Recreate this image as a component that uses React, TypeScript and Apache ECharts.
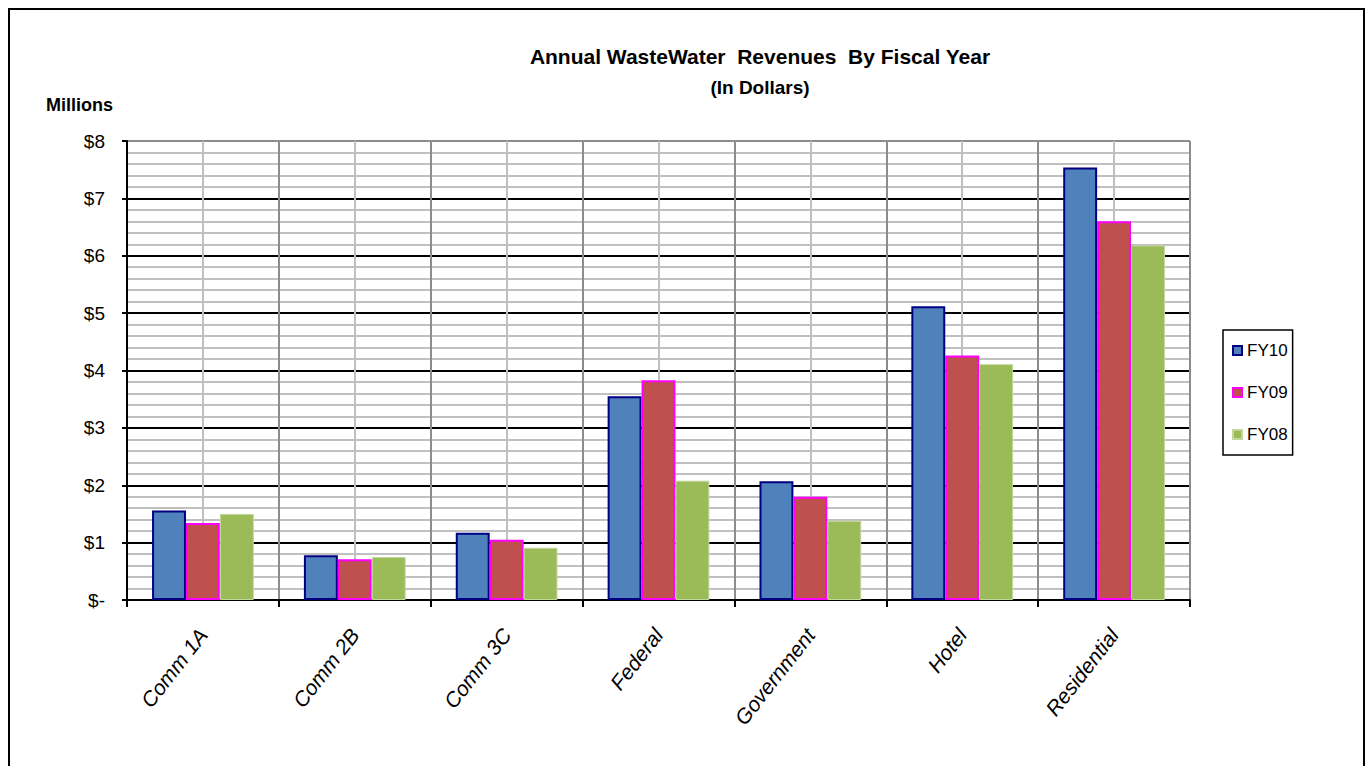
import React, { useEffect, useRef } from "react";
import * as echarts from "echarts";

const categories = ["Comm 1A", "Comm 2B", "Comm 3C", "Federal", "Government", "Hotel", "Residential"];
const fy10 = [1.56, 0.78, 1.17, 3.55, 2.07, 5.12, 7.54];
const fy09 = [1.34, 0.71, 1.05, 3.83, 1.8, 4.26, 6.6];
const fy08 = [1.5, 0.75, 0.91, 2.08, 1.38, 4.11, 6.18];
const seriesNames = ["FY10", "FY09", "FY08"];
const yTicks = [0, 1, 2, 3, 4, 5, 6, 7, 8];

const FONT = "'Liberation Sans Narrow', 'Arial Narrow', 'Liberation Sans', Arial, sans-serif";

export default function App() {
  const ref = useRef<HTMLDivElement>(null);
  useEffect(() => {
    document.body.style.margin = "0";
    const chart = echarts.init(ref.current!, null, { renderer: "svg" });
    const splitColors = yTicks.map((t) => (t === 8 ? "#8c8c8c" : "#000000"));
    const vColors: string[] = [];
    for (let i = 0; i <= categories.length * 2; i++) vColors.push(i % 2 === 0 ? "#8c8c8c" : "#c0c0c0");
    chart.setOption({
      animation: false,
      backgroundColor: "#ffffff",
      textStyle: { fontFamily: FONT, color: "#000" },
      title: [
        {
          text: "Annual WasteWater  Revenues  By Fiscal Year",
          left: 755,
          top: 41,
          textAlign: "center",
          textStyle: { fontFamily: FONT, fontWeight: "bold", fontSize: 21, color: "#000" },
        },
        {
          text: "(In Dollars)",
          left: 755,
          top: 73,
          textAlign: "center",
          textStyle: { fontFamily: FONT, fontWeight: "bold", fontSize: 19, color: "#000" },
        },
      ],
      graphic: [
        {
          type: "rect",
          shape: { x: 9, y: 9, width: 1355, height: 770 },
          style: { fill: "none", stroke: "#000", lineWidth: 2 },
          silent: true,
        },
        {
          type: "text",
          x: 46,
          y: 105,
          style: {
            text: "Millions",
            font: `bold 18px ${FONT}`,
            fill: "#000",
            textVerticalAlign: "middle",
          },
        },
      ],
      legend: {
        orient: "vertical",
        left: 1223,
        top: 330,
        data: seriesNames,
        backgroundColor: "#fff",
        borderColor: "#000",
        borderWidth: 1.5,
        borderRadius: 0,
        padding: [12, 5, 12, 9],
        itemGap: 25,
        itemWidth: 9,
        itemHeight: 9,
        icon: "rect",
        textStyle: { fontFamily: FONT, fontSize: 17, color: "#000" },
      },
      grid: { left: 127, right: 182, top: 141, bottom: 166, containLabel: false },
      xAxis: [
        {
          type: "category",
          data: categories,
          boundaryGap: true,
          axisLine: { show: true, lineStyle: { color: "#000", width: 2 } },
          axisTick: { show: true, length: 7, lineStyle: { color: "#000", width: 2 } },
          splitLine: { show: false },
          axisLabel: {
            rotate: 52,
            margin: 31,
            fontFamily: FONT,
            fontSize: 21,
            fontStyle: "italic",
            color: "#000",
            interval: 0,
          },
          z: 3,
        },
        {
          type: "value",
          min: 0,
          max: categories.length,
          interval: 0.5,
          show: true,
          position: "bottom",
          axisLine: { show: false },
          axisTick: { show: false },
          axisLabel: { show: false },
          splitLine: { show: true, lineStyle: { color: vColors, width: 2 } },
        },
      ],
      yAxis: {
        type: "value",
        min: 0,
        max: 8,
        interval: 1,
        axisLine: { show: true, lineStyle: { color: "#000", width: 2 } },
        axisTick: { show: true, length: 5, lineStyle: { color: "#000", width: 2 } },
        axisLabel: {
          margin: 22,
          fontFamily: FONT,
          fontSize: 19,
          color: "#000",
          formatter: (v: number) => (v === 0 ? "$-" : "$" + v),
        },
        splitLine: { show: true, lineStyle: { color: splitColors, width: 2 } },
        minorTick: { show: false, splitNumber: 5 },
        minorSplitLine: { show: true, lineStyle: { color: "#c0c0c0", width: 2 } },
      },
      series: [
        {
          name: "FY10",
          type: "bar",
          xAxisIndex: 0,
          data: fy10,
          barGap: "0%",
          barCategoryGap: "33%",
          itemStyle: { color: "#4F81BD", borderColor: "#000080", borderWidth: 2 },
          z: 4,
        },
        {
          name: "FY09",
          type: "bar",
          xAxisIndex: 0,
          data: fy09,
          barGap: "0%",
          barCategoryGap: "33%",
          itemStyle: { color: "#C0504D", borderColor: "#FF00FF", borderWidth: 2 },
          z: 4,
        },
        {
          name: "FY08",
          type: "bar",
          xAxisIndex: 0,
          data: fy08,
          barGap: "0%",
          barCategoryGap: "33%",
          itemStyle: { color: "#9BBB59", borderColor: "#C3D69B", borderWidth: 1 },
          z: 4,
        },
      ],
    });
    return () => chart.dispose();
  }, []);
  return <div ref={ref} style={{ width: 1372, height: 766 }} />;
}
